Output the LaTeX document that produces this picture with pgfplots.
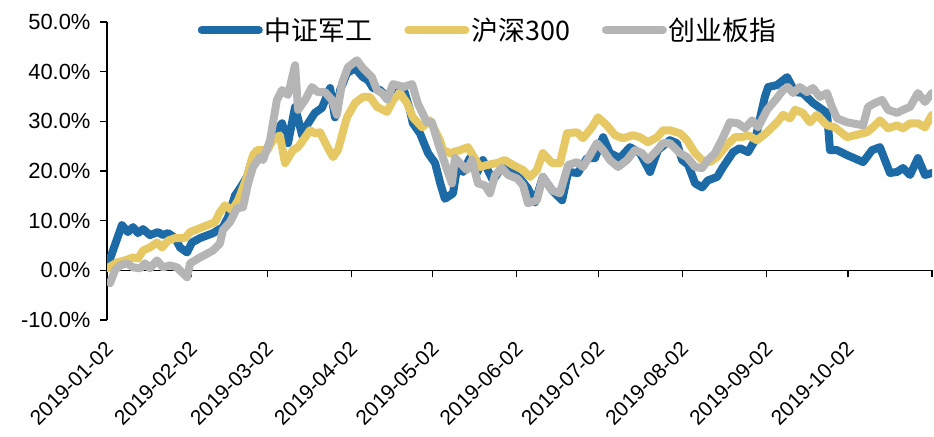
\documentclass[border=0pt]{standalone}
\usepackage{fontspec}
\setmainfont{Liberation Sans}
\newfontfamily\cjk{Noto Sans CJK SC}
\usepackage{pgfplots}
\usepackage{pgfplotstable}
\pgfplotsset{compat=1.18}

\definecolor{jungong}{HTML}{1C6AA6}
\definecolor{hushen}{HTML}{E6C864}
\definecolor{chuangye}{HTML}{B5B5B5}

% x = days since 2019-01-02, y = cumulative return in %
\pgfplotstableread{
d v
0 0.6
5.5 9.1
7.7 7.7
9.6 8.7
11.4 7.5
13.3 8.3
15.8 7.1
18.8 7.7
20.6 7.1
22.5 7.5
25.1 6.5
26.9 4.6
29.5 3.6
31.3 5.6
34.3 6.5
39.1 7.5
42.7 8.7
44.6 10.7
47.2 15.1
49.0 16.5
51.6 18.8
53.4 22.2
56.4 24.0
59.0 24.2
62.6 28.2
64.5 29.6
66.7 25.6
69.3 32.9
71.9 27.2
74.1 29.6
76.6 31.7
79.2 32.7
82.2 36.7
84.0 30.8
85.9 36.3
88.4 39.7
91.4 40.7
94.3 38.9
96.2 38.3
98.0 36.7
100.6 36.3
103.2 34.9
106.1 37.3
109.1 36.9
111.6 32.3
112.7 29.6
115.3 27.6
118.3 23.6
120.9 21.6
122.7 17.7
124.5 14.4
127.5 15.5
129.0 20.8
131.2 19.8
133.7 22.6
136.3 19.6
138.5 22.2
142.2 18.1
145.5 20.8
149.2 19.8
152.2 18.5
155.1 16.5
157.7 13.7
160.6 18.8
164.0 16.1
167.7 14.1
169.9 19.8
173.5 19.6
176.9 22.6
179.8 22.6
182.8 26.8
185.3 23.6
189.0 22.6
192.7 24.8
196.4 23.6
200.1 19.8
203.0 24.2
207.4 26.2
210.0 25.6
211.9 22.2
214.1 21.3
216.7 17.5
219.3 16.7
221.4 18.1
224.8 18.8
227.0 20.8
230.7 23.8
233.2 24.6
236.2 23.8
238.8 26.2
240.6 30.6
242.4 34.9
243.6 36.9
246.9 37.3
250.6 38.9
253.5 35.9
256.4 35.7
260.1 33.7
262.7 32.7
265.3 31.7
266.4 24.2
269.0 24.2
272.7 23.2
278.6 21.8
281.9 24.2
284.8 24.8
288.5 19.6
291.1 19.8
293.3 20.6
295.9 19.2
298.8 22.6
301.4 19.2
304.0 19.6
}\jungongdata

\pgfplotstableread{
d v
0 0.4
3.7 1.6
6.6 2.0
9.6 2.6
11.4 2.4
13.3 4.0
15.8 4.6
18.4 5.6
20.3 4.6
22.5 6.0
25.1 6.5
28.7 6.5
30.6 7.7
34.3 8.5
39.8 9.7
41.6 11.7
43.5 13.1
46.1 12.1
48.3 14.1
51.6 18.8
53.8 23.2
55.3 24.2
59.0 24.2
61.2 26.2
63.7 27.2
65.6 21.6
68.5 24.2
70.4 24.8
73.0 26.8
74.8 28.2
76.6 27.6
78.5 27.8
81.4 24.6
83.3 22.8
85.1 24.2
88.4 30.8
91.4 33.7
94.3 34.9
96.9 34.9
99.5 32.9
103.2 31.9
105.4 34.3
108.0 35.7
110.5 33.7
112.7 30.8
116.1 28.8
119.0 30.2
122.7 26.2
123.8 24.2
126.4 23.6
130.1 24.2
133.0 24.8
137.4 20.8
140.0 21.2
143.7 21.6
146.6 22.2
149.6 21.2
153.3 20.2
155.9 18.8
158.4 20.2
160.6 23.6
164.0 21.6
166.9 21.6
169.5 27.6
173.2 27.8
175.4 26.6
178.7 28.8
180.9 30.8
184.2 29.2
187.2 27.2
190.1 26.6
193.8 27.2
196.4 26.8
199.3 25.8
202.7 26.8
204.9 28.2
207.4 28.2
211.1 27.6
213.7 26.2
216.7 23.6
219.3 22.2
222.2 21.8
224.8 22.8
228.4 25.2
231.4 26.8
234.0 26.8
236.2 27.2
239.5 26.2
243.2 27.8
246.9 29.8
249.1 31.3
251.7 30.6
253.5 32.3
256.4 31.7
259.0 29.8
261.6 31.3
265.3 29.2
268.2 28.8
272.7 26.8
280.0 27.8
282.2 28.8
284.8 30.2
287.8 28.6
291.1 29.2
293.3 28.6
295.9 29.6
298.8 29.6
301.4 28.8
304.0 31.3
}\hushendata

\pgfplotstableread{
d v
1.1 -2.6
2.9 0.0
4.8 1.0
7.4 1.4
9.6 0.6
12.2 0.4
14.0 1.4
15.8 0.4
18.4 2.0
20.6 0.6
23.2 1.0
25.8 0.6
27.6 -0.4
29.5 -1.4
30.6 1.4
34.3 2.6
39.1 4.0
41.6 5.4
42.7 8.1
45.3 9.7
47.9 12.5
50.1 12.7
52.0 17.5
53.8 20.8
56.4 22.8
57.5 22.2
60.1 26.2
62.6 34.3
64.5 36.3
66.7 35.3
69.3 41.3
70.4 32.3
73.0 34.3
75.5 36.9
77.7 35.9
80.3 35.9
82.9 34.3
84.7 31.3
86.6 37.7
88.8 40.9
92.1 42.3
94.3 40.7
97.6 38.9
99.5 36.3
101.3 35.7
103.2 34.4
105.4 37.5
109.1 36.9
112.4 37.5
114.6 33.5
117.9 29.8
119.7 29.8
122.0 25.6
125.3 20.2
127.1 17.5
128.2 22.6
130.8 21.2
132.6 20.2
134.5 22.2
136.7 17.5
139.3 17.1
141.1 15.5
143.0 19.2
145.5 20.6
147.8 19.2
151.1 18.5
153.3 17.1
155.1 13.5
158.4 14.1
160.6 18.8
164.0 16.1
166.9 15.5
169.9 21.2
173.2 21.8
175.4 20.8
178.0 23.2
180.5 25.6
182.8 24.2
185.3 22.2
188.3 20.8
191.6 22.2
194.5 24.2
197.1 23.6
199.3 22.2
202.7 24.2
204.9 25.6
207.4 25.6
211.1 23.6
213.7 22.8
216.7 20.8
219.3 20.6
221.4 22.2
224.0 23.6
227.0 26.8
229.5 29.8
232.5 29.6
235.1 28.6
237.7 30.2
239.9 28.8
243.2 32.3
246.9 34.7
249.1 36.3
250.9 36.9
252.8 35.7
255.3 36.9
257.9 35.9
260.1 36.7
262.7 34.9
265.3 35.7
267.1 32.9
269.0 30.6
272.7 29.8
278.6 29.2
280.4 32.9
283.0 33.7
285.6 34.3
287.8 32.3
291.1 31.7
293.3 32.3
295.9 32.9
298.8 35.7
301.4 33.9
304.0 35.7
}\chuangyedata

\begin{document}
\begin{tikzpicture}
\begin{axis}[
  scale only axis,
  width=825bp, height=298bp,
  xmin=0, xmax=304, ymin=-10, ymax=50,
  axis x line=middle, axis y line=left,
  axis line style={-, line width=1.2bp, black},
  hide obscured x ticks=false, hide obscured y ticks=false,
  tick align=outside,
  major tick length=7bp,
  tick style={line width=1.2bp, black},
  xtick={0,31,59,90,120,151,181,212,243,273,304},
  xticklabels={2019-01-02,2019-02-02,2019-03-02,2019-04-02,2019-05-02,2019-06-02,2019-07-02,2019-08-02,2019-09-02,2019-10-02,{}},
  ytick={-10,0,10,20,30,40,50},
  yticklabel={\pgfmathprintnumber[fixed,fixed zerofill,precision=1]{\tick}\%},
  /pgf/number format/assume math mode=true,
  ticklabel style={font=\fontsize{22}{26}\selectfont},
  yticklabel style={xshift=-6bp},
  xticklabel style={font=\fontsize{21}{25}\selectfont, xshift=-3bp, yshift=-58bp, rotate=45, anchor=north east},
  legend columns=3,
  legend style={draw=none, fill=none, at={(0.462,0.973)}, anchor=center,
    font={\cjk\fontsize{27}{30}\selectfont},
    /tikz/every even column/.append style={column sep=30bp}},
  legend image code/.code={\draw[#1] (0bp,0bp) -- (57bp,0bp);},
]
\addplot[jungong, line width=8bp, line join=round, line cap=round] table[x=d,y=v]{\jungongdata};
\addplot[hushen, line width=8bp, line join=round, line cap=round] table[x=d,y=v]{\hushendata};
\addplot[chuangye, line width=8bp, line join=round, line cap=round] table[x=d,y=v]{\chuangyedata};
\legend{中证军工,沪深300,创业板指}
\coordinate (bbl) at (rel axis cs:-0.1297,-0.3926);
\coordinate (btr) at (rel axis cs:1.0024,1.0738);
\end{axis}
\pgfresetboundingbox
\path (bbl) rectangle (btr);
\end{tikzpicture}
\end{document}
